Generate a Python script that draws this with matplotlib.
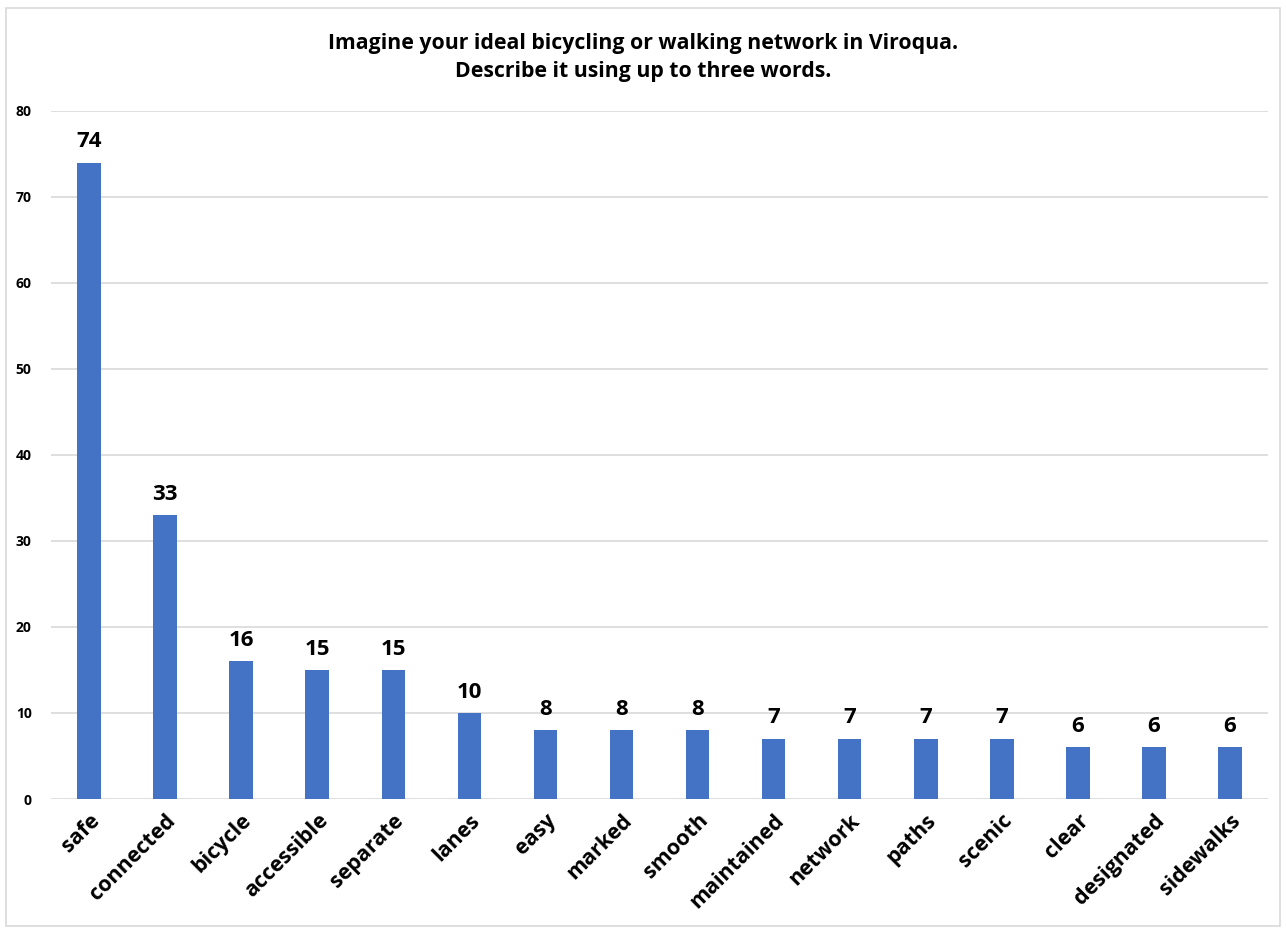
import matplotlib
matplotlib.use("Agg")
import matplotlib.pyplot as plt
from matplotlib.patches import Rectangle

palabras = ["safe", "connected", "bicycle", "accessible", "separate", "lanes", "easy",
            "marked", "smooth", "maintained", "network", "paths", "scenic", "clear",
            "designated", "sidewalks"]
conteos = [74, 33, 16, 15, 15, 10, 8, 8, 8, 7, 7, 7, 7, 6, 6, 6]

plt.rcParams['font.family'] = ['Open Sans', 'DejaVu Sans']

fig = plt.figure(figsize=(12.86, 9.32), dpi=100)
ax = fig.add_axes([0.0397, 0.1427, 0.9463, 0.7383])

x = range(len(palabras))
ax.bar(x, conteos, width=0.31, color="#4472C4", zorder=3)
for xi, v in zip(x, conteos):
    ax.text(xi, v + 1.2, str(v), ha="center", va="bottom", fontsize=16,
            fontweight="bold", color="black")

ax.set_xlim(-0.5, len(palabras) - 0.5)
ax.set_ylim(0, 80)
ax.set_yticks(range(0, 81, 10))
ax.yaxis.grid(True, color="#D9D9D9", linewidth=1.2, zorder=0)
for s in ax.spines.values():
    s.set_visible(False)
ax.tick_params(axis="both", length=0)
ax.tick_params(axis="y", labelsize=10, pad=14)
ax.set_xticks(list(x))
ax.set_xticklabels(palabras, rotation=45, ha="right", rotation_mode="anchor",
                   fontsize=15.5, fontweight="bold")
for lbl in ax.get_yticklabels():
    lbl.set_fontweight("bold")
ax.tick_params(axis="x", pad=8)

fig.text(0.5, 0.965, "Imagine your ideal bicycling or walking network in Viroqua.\nDescribe it using up to three words.",
         ha="center", va="top", fontsize=15.3, fontweight="bold", linespacing=1.45)

fig.patches.append(Rectangle((0.005, 0.006), 0.99, 0.985, transform=fig.transFigure,
                             fill=False, edgecolor="#D9D9D9", linewidth=1.2))

fig.savefig("out.png", dpi=100)
